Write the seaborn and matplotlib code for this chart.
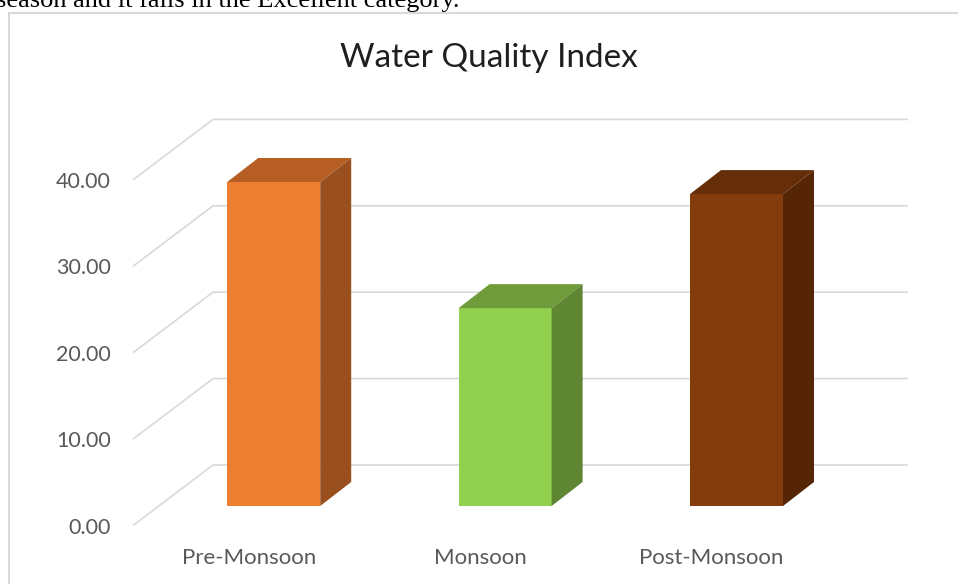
import matplotlib
matplotlib.use("Agg")
import matplotlib.pyplot as plt
from matplotlib.patches import Polygon, Rectangle
import seaborn as sns

# values
seasons = ["Pre-Monsoon", "Monsoon", "Post-Monsoon"]
wqi = [37.5, 22.9, 36.1]
ticks = [0, 10, 20, 30, 40]

front_colors = ["#ED7D31", "#92D050", "#843C0C"]
top_colors = ["#B65E23", "#6F9B3B", "#652E09"]
side_colors = ["#9A4F1E", "#5F8733", "#552505"]

sns.set_theme(style="white")
plt.rcParams["font.family"] = ["Lato", "DejaVu Sans"]

W, H = 958, 584
fig = plt.figure(figsize=(W / 100, H / 100), dpi=100)
fig.patch.set_facecolor("white")

# axes box in pixels, then data scale (px per unit)
left, right, top, bottom = 120, 930, 100, 530
ax = fig.add_axes([left / W, (H - bottom) / H, (right - left) / W, (bottom - top) / H])
px_x = 231.4   # px per category step
px_y = 8.64    # px per WQI unit
x0_px, y0_px = 273.7, 506   # first bar centre / baseline in pixels

# fake 3d depth, in data units
depth_dx, depth_dy = 31 / px_x, 24 / px_y          # bar depth
front_dx, front_dy = -25 / px_x, -19.5 / px_y      # axis-label plane
back_dx, back_dy = 55 / px_x, 41 / px_y            # back wall
wall_left = (213 - x0_px) / px_x
wall_right = (908 - x0_px) / px_x

sns.barplot(x=seasons, y=wqi, hue=seasons, palette=front_colors, saturation=1,
            width=0.402, legend=False, ax=ax, zorder=3, edgecolor="none")

ax.set_xlim((left - x0_px) / px_x, (right - x0_px) / px_x)
ax.set_ylim((y0_px - bottom) / px_y, (y0_px - top) / px_y)

for p, tc, sc in zip(ax.patches, top_colors, side_colors):
    x, w, h = p.get_x(), p.get_width(), p.get_height()
    ax.add_patch(Polygon([(x, h), (x + w, h), (x + w + depth_dx, h + depth_dy),
                          (x + depth_dx, h + depth_dy)], closed=True,
                         facecolor=tc, edgecolor="none", zorder=3))
    ax.add_patch(Polygon([(x + w, 0), (x + w + depth_dx, depth_dy),
                          (x + w + depth_dx, h + depth_dy), (x + w, h)], closed=True,
                         facecolor=sc, edgecolor="none", zorder=3))

# gridlines: side wall diagonal + back wall
for t in ticks:
    ax.plot([wall_left - (back_dx - front_dx), wall_left, wall_right],
            [t + front_dy, t + back_dy, t + back_dy],
            color="#D9D9D9", lw=1.2, zorder=1, solid_capstyle="butt")

ax.set_yticks([t + front_dy for t in ticks], labels=[f"{t:.2f}" for t in ticks])
ax.set_xticks([i + front_dx for i in range(len(seasons))], labels=seasons)
ax.tick_params(axis="y", length=0, pad=6.5, labelsize=15.5, labelcolor="#595959")
ax.tick_params(axis="x", length=0, pad=13, labelsize=16, labelcolor="#595959")
ax.set_xlabel("")
ax.set_ylabel("")
for s in ax.spines.values():
    s.set_visible(False)
ax.set_facecolor("none")

fig.text(489 / W, 1 - 58 / H, "Water Quality Index", ha="center", va="center",
         fontsize=24, color="#1F1F1F")

# chart frame and the clipped line of document text above it
fig.add_artist(Rectangle((9 / W, -0.1), 1.2, 1.1 - 13 / H, transform=fig.transFigure,
                         fill=False, edgecolor="#D9D9D9", lw=1.5))
fig.text(-4 / W, 1 - 7.5 / H, "season and it falls in the Excellent category.",
         ha="left", va="baseline", fontsize=19, color="black",
         family=["Liberation Serif", "DejaVu Serif"])

fig.savefig("out.png", dpi=100)
